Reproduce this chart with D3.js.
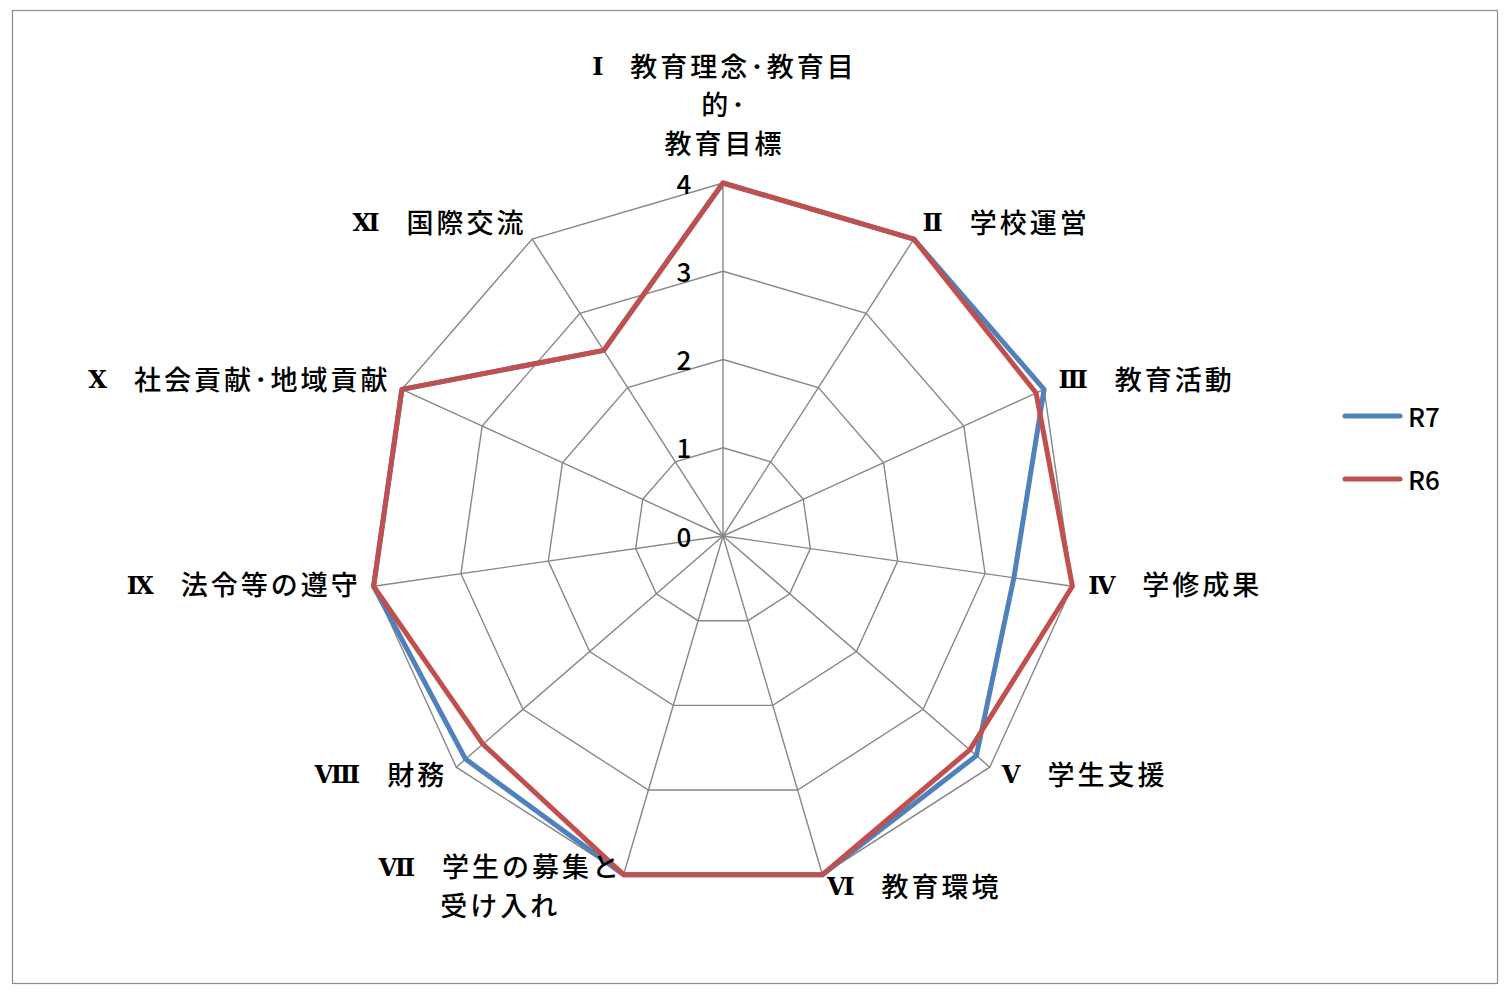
<!DOCTYPE html>
<html>
<head>
<meta charset="utf-8">
<script src="https://cdn.jsdelivr.net/npm/d3@7"></script>
<style>
  html, body { margin: 0; padding: 0; background: #ffffff; }
  svg { display: block; }
</style>
</head>
<body>
<script>
// ---- data ----
const categories = [
  "Ⅰ　教育理念･教育目\n的･\n教育目標",
  "Ⅱ　学校運営",
  "Ⅲ　教育活動",
  "Ⅳ　学修成果",
  "Ⅴ　学生支援",
  "Ⅵ　教育環境",
  "Ⅶ　学生の募集と\n受け入れ",
  "Ⅷ　財務",
  "Ⅸ　法令等の遵守",
  "Ⅹ　社会貢献･地域貢献",
  "Ⅺ　国際交流"
];
const seriesNames = ["R7", "R6"];
const valuesR7 = [4, 4, 4, 3.33, 3.8, 4, 4, 3.86, 4, 4, 2.5];
const valuesR6 = [4, 4, 3.9, 4, 3.7, 4, 4, 3.6, 4, 4, 2.5];
const tickValues = [0, 1, 2, 3, 4];

// ---- layout / style ----
const W = 1508, H = 992;
const cx = 723, cy = 536, R = 353;
const colors = { R7: "#4F81BD", R6: "#C0504D" };
const jpFont = "'Noto Sans CJK JP', 'Noto Sans CJK SC', sans-serif";
const serifFont = "'Liberation Serif', 'DejaVu Serif', serif";
const LS = 3;

const svg = d3.select("body").append("svg").attr("width", W).attr("height", H);

svg.append("rect")
  .attr("x", 12.5).attr("y", 10.5).attr("width", 1485).attr("height", 973)
  .attr("fill", "#fff").attr("stroke", "#8c8c8c").attr("stroke-width", 1.2);

const r = d3.scaleLinear().domain([0, 4]).range([0, R]);
const n = categories.length;
const angle = d3.scaleLinear().domain([0, n]).range([0, 2 * Math.PI]);
const pt = (i, v) => [cx + r(v) * Math.sin(angle(i)), cy - r(v) * Math.cos(angle(i))];

const g = svg.append("g");

// grid polygons
tickValues.filter(t => t > 0).forEach(t => {
  g.append("path")
    .attr("d", d3.line()(d3.range(n).map(i => pt(i, t))) + "Z")
    .attr("fill", "none").attr("stroke", "#878787").attr("stroke-width", 1.4);
});
// spokes
d3.range(n).forEach(i => {
  const p = pt(i, 4);
  g.append("line").attr("x1", cx).attr("y1", cy).attr("x2", p[0]).attr("y2", p[1])
    .attr("stroke", "#878787").attr("stroke-width", 1.4);
});

// tick labels
g.selectAll("text.tick").data(tickValues).join("text")
  .attr("class", "tick")
  .attr("x", cx - 39).attr("y", d => cy - r(d) - 1)
  .attr("text-anchor", "middle").attr("dominant-baseline", "central")
  .attr("font-family", jpFont).attr("font-size", 26).attr("font-weight", 500).attr("fill", "#000")
  .text(d => d);

// series
const lineGen = d3.line().x(d => d[0]).y(d => d[1]).curve(d3.curveLinearClosed);
[["R7", valuesR7], ["R6", valuesR6]].forEach(([name, vals]) => {
  g.append("path")
    .attr("d", lineGen(vals.map((v, i) => pt(i, v))))
    .attr("fill", "none").attr("stroke", colors[name])
    .attr("stroke-width", 5).attr("stroke-linejoin", "round");
});

// category labels
const lh = 39;
categories.forEach((cat, i) => {
  const [x, y] = pt(i, 4.18);
  const s = Math.sin(angle(i)), c = Math.cos(angle(i));
  const lines = cat.split("\n");
  const texts = lines.map((ln, k) => {
    const t = g.append("text")
      .attr("font-family", jpFont).attr("font-size", 27).attr("font-weight", 500)
      .attr("letter-spacing", LS)
      .attr("dominant-baseline", "central").attr("fill", "#000");
    if (k === 0) {
      const idx = ln.indexOf("　");
      t.append("tspan").attr("font-family", serifFont).attr("font-size", 24)
        .attr("dy", 2.5)
        .attr("font-weight", "bold").attr("letter-spacing", 0).text(ln.slice(0, idx));
      t.append("tspan").attr("dy", -2.5).attr("letter-spacing", 0).text("　");
      t.append("tspan").attr("letter-spacing", LS).text(ln.slice(idx + 1));
    } else {
      t.text(ln);
    }
    return t;
  });
  const widths = texts.map(t => t.node().getComputedTextLength() - LS);
  const bw = d3.max(widths);
  let left;
  if (s > 0.1) left = x;
  else if (s < -0.1) left = x - bw;
  else left = x - bw / 2;
  const bh = lines.length * lh;
  let top;
  if (c > 0.9) top = y - bh;
  else top = y - bh / 2;
  texts.forEach((t, k) => {
    t.attr("x", left + (bw - widths[k]) / 2).attr("y", top + lh * k + lh / 2 - 5);
  });
});

// legend
const legend = svg.append("g");
seriesNames.forEach((name, k) => {
  const ly = 416 + k * 63;
  legend.append("line").attr("x1", 1345).attr("x2", 1400).attr("y1", ly).attr("y2", ly)
    .attr("stroke", colors[name]).attr("stroke-width", 5).attr("stroke-linecap", "round");
  legend.append("text").attr("x", 1408).attr("y", ly - 1)
    .attr("dominant-baseline", "central")
    .attr("font-family", jpFont).attr("font-size", 26).attr("font-weight", 500).attr("fill", "#000")
    .text(name);
});
</script>
</body>
</html>
